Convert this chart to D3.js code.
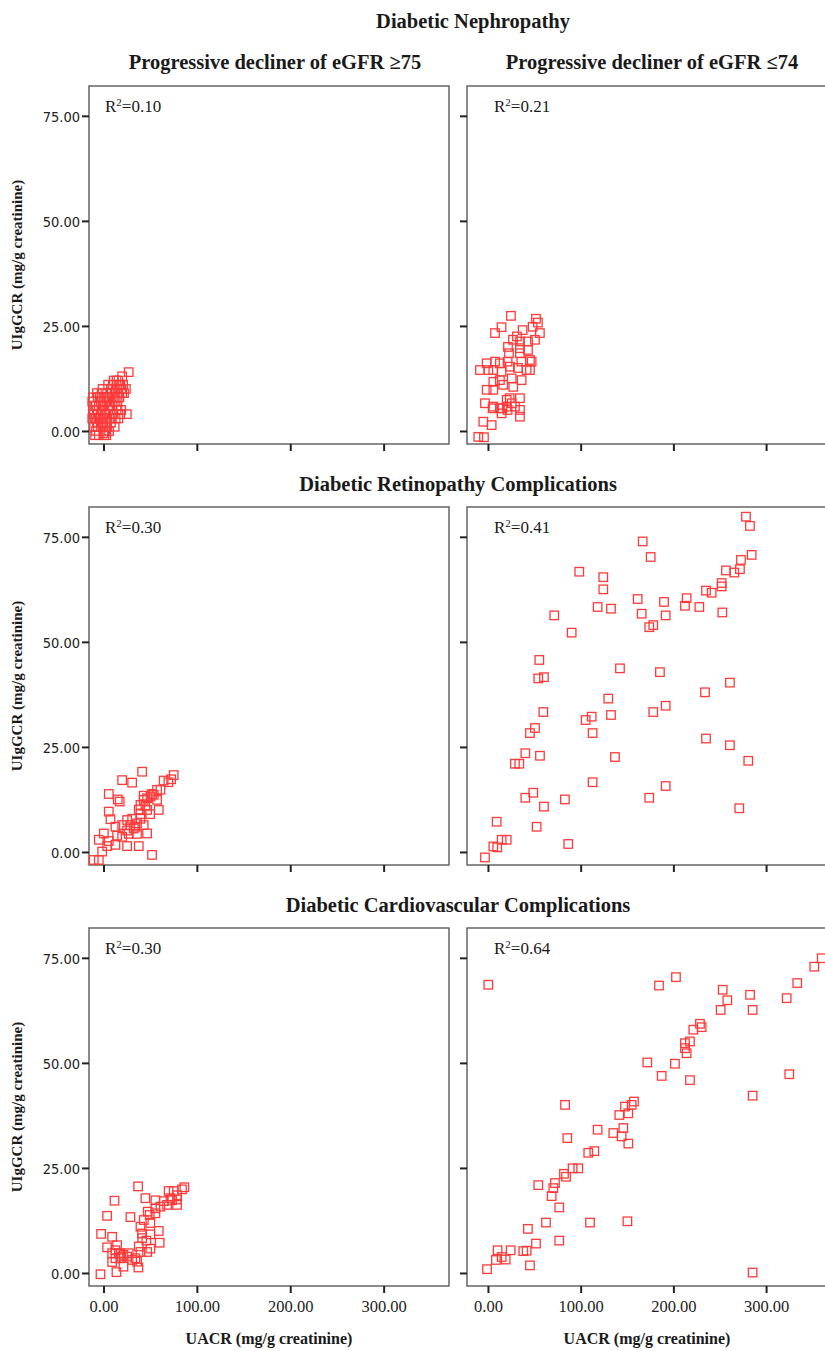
<!DOCTYPE html>
<html>
<head>
<meta charset="utf-8">
<script src="https://cdn.jsdelivr.net/npm/d3@7"></script>
<style>
  body { margin: 0; background: #fff; }
  svg { display: block; }
  .ttl { font-family: "Liberation Serif", "Times New Roman", serif; font-weight: bold; fill: #1a1a1a; }
  .tick-y { font-family: "DejaVu Sans Condensed", "DejaVu Sans", sans-serif; font-size: 14.5px; fill: #222; }
  .tick-x { font-family: "Liberation Serif", serif; font-size: 16.5px; fill: #222; }
</style>
</head>
<body>
<div id="chart"></div>
<script>
// Chart data (UACR, UIgGCR)
var rowTitles = ["Diabetic Nephropathy", "Diabetic Retinopathy Complications", "Diabetic Cardiovascular Complications"];
var colTitles = ["Progressive decliner of eGFR \u226575", "Progressive decliner of eGFR \u226474"];
var r2Labels = [["0.10", "0.21"], ["0.30", "0.41"], ["0.30", "0.64"]];
var xTicks = [0, 100, 200, 300];
var yTicks = [0, 25, 50, 75];

var nephroGe75 = [[-12,7],[-11,5],[-12,3],[-10,1],[-9,-1],[-8,0],[-7,2],[-6,4],[-5,6],[-4,8],[-3,7],[-2,5],[-1,3],[0,1],[1,-1],[2,0],[3,2],[-8,6],[-6,8],[-4,3],[-2,9],[0,6],[1,8],[2,4],[3,7],[4,9],[5,5],[6,3],[7,8],[8,10],[9,6],[10,11],[11,4],[12,9],[13,7],[14,12],[15,10],[16,3],[17,8],[18,11],[19,5],[20,13],[22,9],[24,10],[25,4],[27,14],[-5,-1],[-3,1],[0,-0.5],[4,1],[6,0],[8,2],[10,4],[-9,3],[-7,9],[-1,10],[5,11],[11,12],[13,3],[15,6],[7,5],[9,3],[3,-1],[-10,4],[12,1],[18,4],[20,9],[16,12],[-11,8],[-9,6],[-7,5],[-5,3],[-3,4],[-1,6],[1,5],[3,4],[5,8],[7,6],[9,9],[11,7],[13,10],[15,8],[17,11],[19,10],[21,11],[-6,1],[-2,2],[2,2],[6,6],[10,8],[14,5],[16,9],[-8,3],[0,8]];

var nephroLe74 = [[24.8,27.4],[14.7,24.7],[7.6,23.3],[51.8,26.7],[53.9,25.8],[48.2,24.8],[56,23.3],[37.4,24],[31.3,22.5],[27,21.7],[34.5,21.3],[43.2,21.3],[50.7,21.7],[21.6,20],[34.5,19.7],[43.2,19.3],[22.7,18.5],[34.5,18.5],[21.2,16.5],[36,16.5],[45.3,16.9],[-8.6,14.5],[-1.4,16.1],[0.4,14.5],[7.6,16.5],[12.9,16.1],[5.8,14.5],[14.7,14.1],[23.7,15.3],[32.4,15],[41.7,14.5],[47.1,16.5],[45.3,14.5],[12.9,12.1],[25.6,12.5],[36.3,12.1],[5.8,11.7],[16.5,11],[27.3,10.5],[-1.4,9.8],[5.8,9.8],[-3.2,6.6],[5.8,5.8],[5,5.4],[12.9,5.4],[20.2,7.4],[23.5,7.8],[34.5,7.8],[29.1,5.8],[34.5,5],[34.5,3.4],[20.2,5.8],[25.6,6.6],[14.7,4.2],[-5,2.2],[4,1.4],[-10.4,-1.4],[-4.3,-1.5],[15.7,5.4],[21.2,5]];

var retinoGe75 = [[41.4,19.1],[20,17.1],[30.7,16.5],[75.2,18.3],[72.4,17.3],[69.5,16.6],[64.5,17],[57.4,14.8],[52,13.8],[46.7,12.8],[43.1,12.4],[39.6,11.2],[37.8,10.1],[57.4,12.4],[59.2,10],[46.7,10],[39.6,9],[50,9],[5.7,13.8],[15.3,12.5],[17.4,12],[5.7,9.6],[7.5,7.8],[12.8,6],[20,6.4],[25.3,7.6],[30.7,7.9],[34.2,6],[43.1,6.4],[46.7,4.4],[35.9,4.3],[27,4.3],[0.4,4.4],[-5,2.9],[5.7,2.6],[12.8,1.7],[25.3,1.4],[37.8,1.4],[52,-0.7],[-10.4,-1.9],[-5,-1.9],[-1.4,0.1],[4,1.4],[20,3.6],[32.4,5.6],[39.6,7.9],[44.9,11],[35.9,6.8],[50.4,13.2],[53.9,13.6],[61,14.8],[25.3,5.1],[14.6,3.9],[28.8,6.4],[43.1,13.4]];

var retinoLe74 = [[278.3,79.8],[282.6,77.6],[284.4,70.7],[272.9,69.5],[271.8,67.3],[265.7,66.5],[256.7,67],[166.9,73.9],[175.5,70.2],[98.5,66.7],[124.4,65.4],[124.4,62.5],[252.1,64],[252.1,63.2],[241.3,61.7],[235.2,62.2],[214.3,60.4],[212.5,58.6],[228,58.3],[252.8,57],[189.9,59.5],[191.7,56.3],[161.5,60.2],[165.8,56.7],[178.3,54],[174,53.5],[118.3,58.3],[132.7,57.9],[71.5,56.3],[90.3,52.2],[55.4,45.7],[54.3,41.3],[60.4,41.6],[142.4,43.7],[185.5,42.8],[261,40.3],[234.1,38],[59.7,33.3],[129.8,36.5],[111.9,32.2],[105.4,31.4],[132.7,32.6],[178.3,33.3],[191.7,34.8],[50.7,29.5],[45.3,28.3],[112.9,28.3],[235.2,27],[261,25.4],[40.3,23.5],[56.1,22.9],[29.1,21],[33.8,21],[137,22.6],[280.8,21.7],[112.9,16.6],[191.7,15.7],[174,12.9],[83,12.5],[40.3,12.9],[48.9,14.1],[60.4,10.8],[271.1,10.4],[9.4,7.2],[52.5,6],[14.8,2.9],[20.2,2.9],[5.8,1.3],[10,1.1],[86.6,1.9],[-3.2,-1.3]];

var cardioGe75 = [[-3.2,-0.3],[13.9,0.2],[21.4,1.5],[37.4,1.3],[9.3,2.6],[19.3,3.9],[-2.5,9.3],[3.9,13.6],[11.8,17.2],[37.1,20.6],[28.9,13.3],[9.3,8.6],[3.9,6.1],[14.6,6.6],[16.4,4.7],[21.4,4.3],[27,4.7],[18.2,3.5],[34.2,3.5],[36,2.7],[37.8,6.3],[46.7,5],[50.2,5.8],[39.6,5],[60.2,7.2],[59.2,10],[50.2,9.2],[41.4,9.4],[39.6,11],[43.2,12.6],[47.4,14.6],[44.9,17.8],[55.6,15.4],[55.6,17.3],[61,15.8],[68.1,16.2],[71.7,17.8],[78.8,17.5],[69.8,19.5],[75.2,19.5],[78.8,16.2],[84.1,19.9],[86.6,20.4],[78.8,18.5],[64.5,17.1],[50.2,11.9],[49.5,13.8],[45.9,7.7],[9.3,4.7],[12.8,3.5],[25.3,3.9],[30.7,3.1],[12.8,5.4],[18.2,4.7],[41.4,8.3],[55.6,14.2],[73.4,17.3]];

var cardioLe74 = [[0.4,68.6],[352,72.9],[360,74.9],[333.6,69],[322.2,65.4],[282.7,66.2],[285.5,62.6],[253.2,67.4],[258.2,64.9],[251,62.6],[202.8,70.4],[184.5,68.4],[228.7,59.3],[230.5,58.5],[221.5,57.9],[217.9,55.1],[212.5,54.7],[212.5,53.5],[214.3,52.3],[201.7,49.8],[171.9,50.1],[187.4,46.9],[217.9,45.9],[325,47.3],[285.5,42.2],[83.2,40],[157.5,40.8],[155,40],[147.8,39.6],[151.4,38],[141.7,37.6],[146,34.5],[135.2,33.3],[144.2,32.5],[151.4,30.8],[118.3,34.1],[85.6,32.1],[114.7,29],[108.2,28.6],[97.4,24.9],[91.3,24.9],[84.2,22.9],[82,23.6],[72.3,21.4],[70.5,20.2],[54.3,20.9],[68.7,18.3],[76.9,15.6],[62.6,12],[110.1,12],[150.4,12.3],[43.1,10.5],[76.9,7.7],[51.8,7],[41.7,5.3],[38.1,5.2],[24.5,5.4],[10.4,5.4],[14.8,3.8],[19.1,3.2],[8.6,3.1],[45.3,1.8],[-1,0.9],[285.5,0.1]];

var panels = [[nephroGe75, nephroLe74], [retinoGe75, retinoLe74], [cardioGe75, cardioLe74]];

var W = 825, H = 1351;
var svg = d3.select("#chart").append("svg")
    .attr("width", W)
    .attr("height", H);

// panel geometry
var colLeft = [89, 467];
var panelW = 360, panelH = 358;
var rowTop = [86, 507, 928];
var xDomains = [[-15.5, 370], [-22.6, 365.7]];

var yScale0 = d3.scaleLinear().domain([-3.1, 82.1]).range([panelH, 0]);

// row titles
rowTitles.forEach(function(t, r) {
    svg.append("text")
        .attr("class", "ttl")
        .attr("x", r == 0 ? 473 : 458)
        .attr("y", r == 0 ? 28 : rowTop[r] - 16)
        .attr("text-anchor", "middle")
        .attr("font-size", 20.5)
        .text(t);
});

// column titles (first row only)
colTitles.forEach(function(t, c) {
    svg.append("text")
        .attr("class", "ttl")
        .attr("x", c == 0 ? 275 : 652)
        .attr("y", 69)
        .attr("text-anchor", "middle")
        .attr("font-size", 20.5)
        .text(t);
});

panels.forEach(function(row, r) {
    row.forEach(function(data, c) {
        var xScale = d3.scaleLinear().domain(xDomains[c]).range([0, panelW]);
        var yScale = yScale0;
        var g = svg.append("g")
            .attr("transform", "translate(" + colLeft[c] + "," + rowTop[r] + ")");

        // frame
        g.append("rect")
            .attr("x", 0).attr("y", 0)
            .attr("width", panelW).attr("height", panelH)
            .attr("fill", "none")
            .attr("stroke", "#5a5a5a")
            .attr("stroke-width", 1.4);

        // y axis ticks
        var yAxis = d3.axisLeft(yScale)
            .tickValues(yTicks)
            .tickSize(7)
            .tickFormat(c == 0 ? d3.format(".2f") : "");
        var ya = g.append("g").call(yAxis);
        ya.select(".domain").remove();
        ya.selectAll(".tick line").attr("stroke", "#222").attr("stroke-width", 2);
        ya.selectAll(".tick text").attr("class", "tick-y").attr("x", -9).attr("dy", "0.36em");

        // x axis ticks
        var xAxis = d3.axisBottom(xScale)
            .tickValues(xTicks)
            .tickSize(7)
            .tickFormat(r == 2 ? d3.format(".2f") : "");
        var xa = g.append("g").attr("transform", "translate(0," + panelH + ")").call(xAxis);
        xa.select(".domain").remove();
        xa.selectAll(".tick line").attr("stroke", "#222").attr("stroke-width", 2);
        xa.selectAll(".tick text").attr("class", "tick-x").attr("y", 14);

        // R squared label
        var lab = g.append("text")
            .attr("class", "ttl")
            .attr("x", c == 0 ? 16 : 27)
            .attr("y", 26)
            .attr("font-size", 17)
            .style("font-weight", "normal");
        lab.append("tspan").text("R");
        lab.append("tspan").attr("dy", -6).attr("font-size", 11).text("2");
        lab.append("tspan").attr("dy", 6).text("=" + r2Labels[r][c]);

        // points
        var s = 8.5;
        g.selectAll("rect.pt")
            .data(data)
            .enter()
            .append("rect")
            .attr("class", "pt")
            .attr("x", function(d) { return xScale(d[0]) - s / 2; })
            .attr("y", function(d) { return yScale(d[1]) - s / 2; })
            .attr("width", s)
            .attr("height", s)
            .attr("fill", "none")
            .attr("stroke", "#ff3a3a")
            .attr("stroke-width", 1.3);

        // y axis title (left column only)
        if (c == 0) {
            svg.append("text")
                .attr("class", "ttl")
                .attr("font-size", 15)
                .attr("text-anchor", "middle")
                .attr("transform", "translate(22," + (rowTop[r] + panelH / 2) + ") rotate(-90)")
                .text("UIgGCR (mg/g creatinine)");
        }

        // x axis title (bottom row only)
        if (r == 2) {
            svg.append("text")
                .attr("class", "ttl")
                .attr("font-size", 16)
                .attr("text-anchor", "middle")
                .attr("x", colLeft[c] + panelW / 2)
                .attr("y", 1344)
                .text("UACR (mg/g creatinine)");
        }
    });
});
</script>
</body>
</html>
